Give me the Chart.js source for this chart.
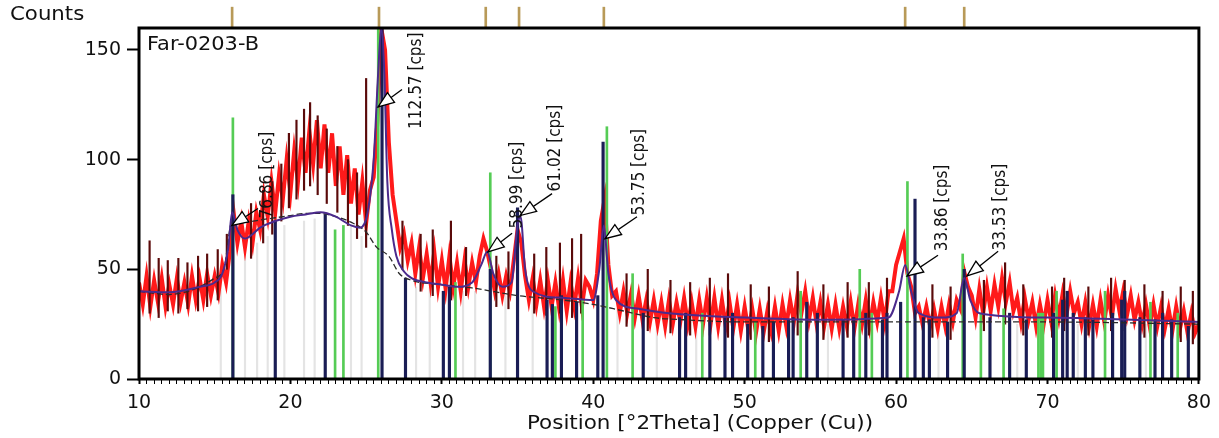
<!DOCTYPE html>
<html>
<head>
<meta charset="utf-8">
<script src="https://cdn.jsdelivr.net/npm/chart.js@4.4.0/dist/chart.umd.min.js"></script>
<style>
  html, body { margin: 0; padding: 0; background: #fff; }
</style>
</head>
<body>
<canvas id="xrd" width="1219" height="438"></canvas>
<script>
// observed scan, one value every 0.25 deg from 10 to 80
const scanStart = 10, scanStep = 0.25;
const observedCounts = [
  44, 34, 47, 33,  45, 35, 46, 33,  43, 34, 46, 35,  44, 34, 47, 36,
  46, 36, 48, 38,  47, 39, 52, 44,  58, 76, 62, 72,  60, 72, 62, 76,
  68, 84, 74, 90,  76, 93, 82, 100,  85, 104, 90, 110,  94, 113, 98, 118,
  96, 116, 94, 112,  88, 106, 84, 102,  80, 96, 75, 90,  71, 86, 92, 118,
  160, 150, 108, 84,  72, 60, 66, 54,  62, 48, 60, 46,  57, 44, 58, 42,
  54, 41, 56, 42,  53, 40, 54, 42,  53, 44, 56, 64,  58, 50, 40, 48,
  38, 47, 40, 54,  68, 62, 47, 36,  46, 34, 45, 33,  45, 33, 44, 32,
  45, 31, 44, 33,  46, 33, 45, 42,  36, 48, 72, 82,  52, 38, 40, 30,
  40, 30, 39, 28,  38, 27, 36, 26,  36, 25, 35, 24,  36, 25, 35, 26,
  37, 25, 35, 24,  36, 25, 37, 25,  37, 24, 36, 24,  35, 23, 34, 22,
  33, 22, 32, 21,  32, 21, 31, 22,  33, 22, 34, 24,  36, 26, 39, 30,
  40, 27, 37, 25,  35, 24, 34, 23,  34, 23, 33, 24,  35, 23, 34, 25,
  36, 24, 35, 26,  37, 26, 40, 40,  52, 58, 64, 48,  42, 30, 33, 25,
  33, 24, 32, 23,  33, 24, 34, 26,  36, 32, 49, 42,  38, 28, 41, 30,
  42, 31, 43, 33,  46, 35, 44, 31,  37, 26, 37, 27,  35, 24, 34, 25,
  36, 26, 38, 28,  39, 29, 40, 30,  35, 25, 35, 24,  34, 24, 36, 26,
  38, 28, 41, 31,  40, 29, 38, 27,  35, 25, 34, 24,  34, 24, 33, 23,
  32, 22, 33, 23,  31, 21, 30, 21,
  25
];

// dark single-count spikes sticking out of the red band
const spikePos = [10.7, 11.3, 11.9, 12.6, 13.2, 13.9, 14.5, 15.2, 15.8, 17.4, 18.2, 18.8, 19.4, 19.9, 20.4, 20.9, 21.3, 21.8, 22.4,
  23.1, 23.8, 24.4, 25.0, 27.4, 28.6, 29.4, 30.6, 31.6, 33.6, 34.4, 36.1, 36.9, 37.8, 38.6, 39.2, 42.2, 43.6, 45.1, 46.4, 47.7,
  48.9, 50.4, 51.6, 53.5, 55.2, 56.8, 58.2, 59.4, 62.4, 63.6, 65.8, 67.2, 68.4, 70.3, 71.1, 72.7, 74.2, 75.1, 76.4, 77.6, 78.8, 79.6];
const spikeHigh = [63, 55, 54, 55, 53, 56, 57, 59, 66, 80, 86, 90, 98, 112, 118, 123, 126, 120, 114,
  106, 100, 94, 137, 72, 66, 68, 72, 60, 56, 58, 57, 60, 62, 64, 66, 48, 50, 45, 44, 46,
  48, 43, 42, 49, 43, 44, 44, 46, 43, 42, 45, 53, 43, 42, 46, 42, 46, 45, 43, 40, 42, 40];
const spikeLow = [30, 28, 31, 30, 32, 31, 33, 36, 50, 55, 62, 66, 72, 78, 82, 86, 88, 84, 80,
  76, 70, 64, 60, 50, 40, 38, 36, 38, 33, 32, 30, 29, 30, 28, 30, 24, 22, 21, 20, 20,
  19, 18, 17, 20, 18, 19, 20, 21, 19, 18, 22, 25, 20, 19, 22, 20, 22, 22, 19, 18, 17, 16];

// calculated profile and background
const calcPos = [10, 12, 14, 15, 15.5, 15.9, 16.15, 16.5, 17, 17.5, 18, 19, 20, 21, 22, 23, 24, 24.6, 25.1, 25.5, 25.8, 26.0, 26.2, 26.4,
  26.7, 27.0, 27.5, 28, 29, 30, 31, 32, 32.6, 33.0, 33.4, 34, 34.6, 35.0, 35.2, 35.5, 36, 38, 40, 40.4, 40.7, 41.0, 41.5, 43, 45,
  50, 55, 59.5, 60.2, 60.6, 61.0, 61.5, 63, 64, 64.5, 64.9, 65.5, 70, 80];
const calcCounts = [40, 39.5, 42, 44, 48, 60, 76, 68, 64, 66, 69, 72, 74, 75, 76, 74, 70, 69, 76, 100, 140, 160, 140, 90,
  68, 56, 49, 46, 44, 43, 42, 44, 52, 58, 48, 42, 44, 70, 74, 50, 40, 37, 36, 50, 70, 48, 36, 32, 30,
  28, 27, 28, 40, 52, 40, 30, 28, 30, 46, 36, 30, 28, 26];
const bgPos = [10, 12, 14, 15, 15.6, 16.15, 17, 18, 19, 20, 21, 22, 23, 24, 25, 25.7, 26.5, 27.2, 28, 30, 32, 35, 38, 40, 42, 44, 46, 50, 60, 70, 80];
const bgCounts = [40, 38.5, 42, 46, 50, 72, 71.5, 72.5, 73.5, 74.5, 75.5, 75.5, 74, 71.5, 67, 60, 56, 48, 45, 43, 41.5, 38, 36, 34, 31, 28, 27, 26, 26, 26, 25];

// reference sticks
const navyPos = [16.2, 19.0, 22.3, 26.05, 27.6, 30.1, 30.5, 33.2, 35.0, 36.95, 37.3, 37.9, 38.9, 40.3, 40.65, 43.3, 45.7, 46.1, 47.7, 48.7,
  49.2, 50.2, 51.2, 51.9, 52.9, 53.2, 54.1, 54.8, 56.5, 57.2, 58.0, 59.1, 59.4, 60.3, 61.25, 61.8, 62.2, 63.4, 64.5, 66.2, 67.5,
  68.6, 70.4, 71.0, 71.3, 71.7, 72.5, 73.0, 74.3, 74.9, 75.1, 76.1, 77.1, 77.6, 78.2, 79.3];
const navyHeights = [84, 72, 75, 160, 46, 40, 42, 50, 78, 36, 34, 38, 35, 38, 108, 30, 28, 30, 26, 28,
  30, 25, 24, 26, 27, 28, 35, 30, 27, 28, 30, 27, 30, 35, 82, 28, 27, 26, 50, 28, 30,
  27, 30, 36, 40, 30, 28, 27, 30, 36, 40, 28, 27, 30, 27, 24];
const greenPos = [16.2, 22.95, 23.5, 25.8, 30.9, 33.2, 37.5, 39.3, 40.9, 42.6, 47.2, 50.7, 53.7, 57.6, 58.4, 60.75, 64.4, 65.6, 67.1,
  69.4, 69.55, 69.7, 70.6, 73.8, 76.8, 78.6];
const greenHeights = [119, 68, 70, 160, 44, 94, 33, 36, 115, 48, 30, 26, 40, 50, 30, 90, 57, 30, 32, 30, 30, 30, 40, 40, 35, 30];
const grayPos = [15.4, 17.0, 17.8, 18.5, 19.6, 20.9, 21.6, 24.0, 24.7, 28.3, 29.2, 31.4, 32.2, 34.2, 36.0, 41.6, 44.2, 46.8, 55.5, 62.8, 68.0, 72.0, 76.5];
const grayHeights = [45, 60, 62, 65, 70, 72, 73, 70, 65, 42, 42, 40, 40, 38, 37, 32, 28, 26, 25, 25, 25, 25, 25];

// phase markers above the frame
const markerPos = [16.15, 25.85, 32.9, 35.1, 40.7, 60.6, 64.5];

// peak annotations
const peakLabels = ['76.86 [cps]', '112.57 [cps]', '58.99 [cps]', '61.02 [cps]', '53.75 [cps]', '33.86 [cps]', '33.53 [cps]'];
const arrowTipPos = [16.14, 25.79, 33.05, 35.17, 40.78, 60.73, 64.69];
const arrowTipCounts = [70, 124, 58, 74.5, 64, 47, 47];
const arrowTailPos = [17.86, 27.37, 34.64, 37.28, 42.89, 62.77, 66.74];
const arrowTailCounts = [77.7, 132, 66.4, 84.5, 74, 56.4, 58.2];
const labelPos = [18.52, 28.36, 34.97, 37.48, 43.03, 63.04, 66.87];
const labelCounts = [73.2, 114, 68.6, 85.5, 74.5, 58.2, 58.6];

const yTicks = [0, 50, 100, 150];
const xLabelEvery = 10, xMinorStep = 0.5;
const sampleName = 'Far-0203-B';
const yTitle = 'Counts';
const xTitle = 'Position [°2Theta] (Copper (Cu))';

function sticks(pos, h) {
  return pos.map((p, i) => ({ x: p, y: [0, h[i]] }));
}

function stretchedText(ctx, text, x, y, sx, align) {
  ctx.save();
  ctx.translate(x, y);
  ctx.scale(sx, 1);
  ctx.textAlign = align;
  ctx.fillText(text, 0, 0);
  ctx.restore();
}

const overlay = {
  id: 'overlay',
  afterDatasetsDraw(chart) {
    const { ctx, scales: { x, y } } = chart;
    ctx.save();
    for (let i = 0; i < peakLabels.length; i++) {
      const tx = x.getPixelForValue(arrowTipPos[i]), ty = y.getPixelForValue(arrowTipCounts[i]);
      const sx = x.getPixelForValue(arrowTailPos[i]), sy = y.getPixelForValue(arrowTailCounts[i]);
      ctx.strokeStyle = '#000';
      ctx.lineWidth = 1.3;
      ctx.beginPath();
      ctx.moveTo(sx, sy);
      ctx.lineTo(tx, ty);
      ctx.stroke();
      const len = Math.hypot(tx - sx, ty - sy);
      const ux = (tx - sx) / len, uy = (ty - sy) / len;
      const bx = tx - ux * 16, by = ty - uy * 16;
      ctx.beginPath();
      ctx.moveTo(tx, ty);
      ctx.lineTo(bx - uy * 6, by + ux * 6);
      ctx.lineTo(bx + uy * 6, by - ux * 6);
      ctx.closePath();
      ctx.fillStyle = '#fff';
      ctx.fill();
      ctx.stroke();

      const lx = x.getPixelForValue(labelPos[i]), ly = y.getPixelForValue(labelCounts[i]);
      ctx.save();
      ctx.translate(lx, ly);
      ctx.rotate(-Math.PI / 2);
      ctx.fillStyle = '#111';
      ctx.font = '17px "DejaVu Sans Condensed", "Liberation Sans Narrow", sans-serif';
      ctx.textAlign = 'left';
      ctx.textBaseline = 'middle';
      ctx.fillText(peakLabels[i], 0, 0);
      ctx.restore();
    }
    ctx.restore();
  },
  afterDraw(chart) {
    const { ctx, chartArea: a } = chart;
    ctx.save();
    ctx.strokeStyle = '#000';
    ctx.lineWidth = 3;
    ctx.strokeRect(a.left, a.top, a.right - a.left, a.bottom - a.top);
    ctx.fillStyle = '#111';
    ctx.font = '19px "DejaVu Sans", Verdana, sans-serif';
    ctx.textBaseline = 'alphabetic';
    stretchedText(ctx, yTitle, 10, 20, 1.12, 'left');
    stretchedText(ctx, sampleName, a.left + 8, 50, 1.1, 'left');
    stretchedText(ctx, xTitle, 700, 429, 1.13, 'center');
    ctx.restore();
  }
};

const scanPoints = observedCounts.map((c, i) => ({ x: scanStart + i * scanStep, y: c }));

new Chart(document.getElementById('xrd'), {
  type: 'line',
  data: {
    datasets: [
      { type: 'bar', data: sticks(grayPos, grayHeights), backgroundColor: '#e4e4e4', barThickness: 1.5, grouped: false, order: 9 },
      { type: 'line', data: scanPoints, borderColor: '#ff1a1a', borderWidth: 4, pointRadius: 0, tension: 0, order: 8 },
      { type: 'bar', data: spikePos.map((p, i) => ({ x: p, y: [spikeLow[i], spikeHigh[i]] })), backgroundColor: '#5a0a0a', barThickness: 1.5, grouped: false, order: 7 },
      { type: 'bar', data: sticks(greenPos, greenHeights), backgroundColor: '#55cc55', barThickness: 2, grouped: false, order: 6 },
      { type: 'bar', data: sticks(navyPos, navyHeights), backgroundColor: '#1a1d55', barThickness: 2.5, grouped: false, order: 5 },
      { type: 'line', data: bgPos.map((p, i) => ({ x: p, y: bgCounts[i] })), borderColor: '#2a2a2a', borderWidth: 1.3, borderDash: [6, 3], pointRadius: 0, cubicInterpolationMode: 'monotone', order: 4 },
      { type: 'line', data: calcPos.map((p, i) => ({ x: p, y: calcCounts[i] })), borderColor: '#4b2a8c', borderWidth: 2, pointRadius: 0, cubicInterpolationMode: 'monotone', order: 3 },
      { type: 'bar', data: markerPos.map(p => ({ x: p, y: [160, 169.5] })), backgroundColor: '#b89a58', barThickness: 2, grouped: false, clip: false, order: 1 }
    ]
  },
  options: {
    responsive: false,
    animation: false,
    layout: { padding: { top: 28, right: 20, left: 0, bottom: 0 } },
    plugins: { legend: { display: false }, tooltip: { enabled: false } },
    scales: {
      x: {
        type: 'linear', min: 10, max: 80, offset: false,
        afterBuildTicks: s => {
          const t = [];
          for (let v = 10; v <= 80; v += xMinorStep) t.push({ value: v });
          s.ticks = t;
        },
        afterFit: s => { s.height = 59; },
        border: { display: false },
        grid: {
          drawOnChartArea: false, offset: false, tickLength: 5, tickColor: '#000',
          tickWidth: c => (c.tick && c.tick.value % xLabelEvery === 0 ? 2 : 1)
        },
        ticks: {
          autoSkip: false, maxRotation: 0, padding: 8, color: '#111',
          font: { family: '"DejaVu Sans", Verdana, sans-serif', size: 19 },
          callback: v => (v % xLabelEvery === 0 ? String(v) : '')
        }
      },
      y: {
        min: 0, max: 160,
        afterBuildTicks: s => { s.ticks = yTicks.map(v => ({ value: v })); },
        afterFit: s => { s.width = 139; },
        border: { display: false },
        grid: { drawOnChartArea: false, tickLength: 12, tickWidth: 2, tickColor: '#000' },
        ticks: { padding: 6, color: '#111', font: { family: '"DejaVu Sans", Verdana, sans-serif', size: 19 } }
      }
    }
  },
  plugins: [overlay]
});
</script>
</body>
</html>
